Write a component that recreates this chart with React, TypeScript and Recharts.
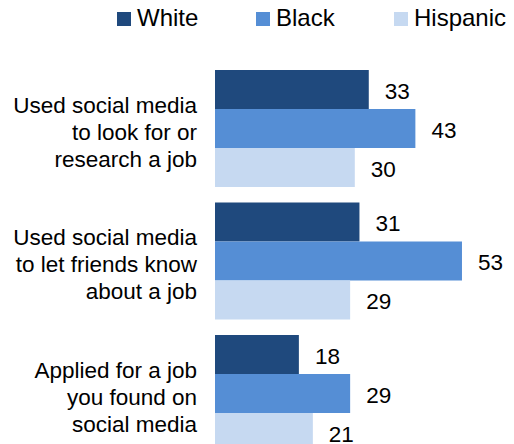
import React from "react";
import { BarChart, Bar, XAxis, YAxis, Legend, LabelList } from "recharts";

const categoryLines: string[][] = [
  ["Used social media", "to look for or", "research a job"],
  ["Used social media", "to let friends know", "about a job"],
  ["Applied for a job", "you found on", "social media"],
];
const seriesNames = ["White", "Black", "Hispanic"];
const whiteValues = [33, 31, 18];
const blackValues = [43, 53, 29];
const hispanicValues = [30, 29, 21];
const seriesColors = ["#1f497d", "#558ed5", "#c6d9f1"];

const categories = categoryLines.map((l) => l.join(" "));
const data = categories.map((c, i) => ({
  category: c,
  White: whiteValues[i],
  Black: blackValues[i],
  Hispanic: hispanicValues[i],
}));

const FONT = "'Liberation Sans', Arial, sans-serif";

const YTick = (props: any) => {
  const { y, payload } = props;
  const idx = categories.indexOf(payload.value);
  const lines = idx >= 0 ? categoryLines[idx] : [payload.value];
  return (
    <g>
      {lines.map((ln, i) => (
        <text
          key={i}
          x={197}
          y={y - 15 + i * 27}
          textAnchor="end"
          fontSize={22.5}
          fontFamily={FONT}
          fill="#000"
        >
          {ln}
        </text>
      ))}
    </g>
  );
};

const ValueLabel = (props: any) => {
  const { x, y, width, height, value } = props;
  return (
    <text
      x={x + width + 16}
      y={y + height / 2 + 9}
      textAnchor="start"
      fontSize={22.5}
      fontFamily={FONT}
      fill="#000"
    >
      {value}
    </text>
  );
};

const legendX = [117, 256, 394];

const LegendContent = () => (
  <div style={{ position: "relative", width: 514, height: 40 }}>
    {seriesNames.map((n, i) => (
      <React.Fragment key={n}>
        <div
          style={{
            position: "absolute",
            left: legendX[i],
            top: 12,
            width: 14,
            height: 14,
            background: seriesColors[i],
          }}
        />
        <div
          style={{
            position: "absolute",
            left: legendX[i] + 20,
            top: 4,
            fontSize: 24,
            lineHeight: "28px",
            fontFamily: FONT,
            color: "#000",
            whiteSpace: "nowrap",
          }}
        >
          {n}
        </div>
      </React.Fragment>
    ))}
  </div>
);

export default function App() {
  return (
    <div
      style={{
        position: "absolute",
        left: 0,
        top: 0,
        width: 514,
        height: 444,
        overflow: "hidden",
        background: "#fff",
      }}
    >
      <BarChart
        width={514}
        height={470}
        data={data}
        layout="vertical"
        margin={{ top: 21.5, right: 19.4, bottom: 11, left: 0 }}
        barCategoryGap={8.5}
        barGap={0}
      >
        <XAxis type="number" domain={[0, 60]} hide />
        <YAxis
          type="category"
          dataKey="category"
          width={215}
          axisLine={false}
          tickLine={false}
          tick={<YTick />}
          interval={0}
        />
        <Legend
          verticalAlign="top"
          content={<LegendContent />}
          wrapperStyle={{ top: 0, left: 0, width: 514, height: 40 }}
        />
        {seriesNames.map((n, i) => (
          <Bar key={n} dataKey={n} fill={seriesColors[i]} isAnimationActive={false}>
            <LabelList dataKey={n} content={<ValueLabel />} />
          </Bar>
        ))}
      </BarChart>
    </div>
  );
}
